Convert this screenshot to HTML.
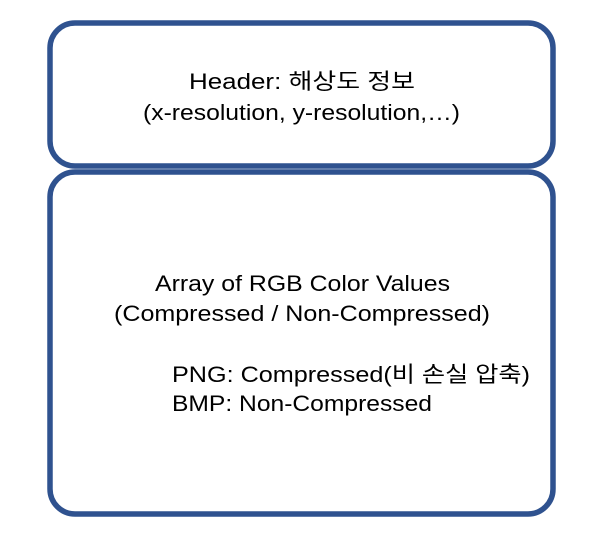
<!DOCTYPE html>
<html><head><meta charset="utf-8"><style>
html,body{margin:0;padding:0;background:#fff;}
svg text{font-family:"Liberation Sans","Noto Sans CJK KR",sans-serif;font-size:22px;fill:#000;}
</style></head><body>
<svg width="597" height="553" xmlns="http://www.w3.org/2000/svg">
<rect x="50" y="23" width="503" height="143" rx="25" ry="25" fill="#fff" stroke="#2F528F" stroke-width="5.5"/>
<rect x="50" y="172" width="503" height="342" rx="25" ry="25" fill="#fff" stroke="#2F528F" stroke-width="5.5"/>
<text x="189" y="89" textLength="226" lengthAdjust="spacingAndGlyphs">Header: 해상도 정보</text>
<text x="143" y="120" textLength="317" lengthAdjust="spacingAndGlyphs">(x-resolution, y-resolution,…)</text>
<text x="155" y="291" textLength="295" lengthAdjust="spacingAndGlyphs">Array of RGB Color Values</text>
<text x="114" y="321" textLength="376" lengthAdjust="spacingAndGlyphs">(Compressed / Non-Compressed)</text>
<text x="172" y="382" textLength="358" lengthAdjust="spacingAndGlyphs">PNG: Compressed(비 손실 압축)</text>
<text x="172" y="411" textLength="260" lengthAdjust="spacingAndGlyphs">BMP: Non-Compressed</text>
</svg>
</body></html>
